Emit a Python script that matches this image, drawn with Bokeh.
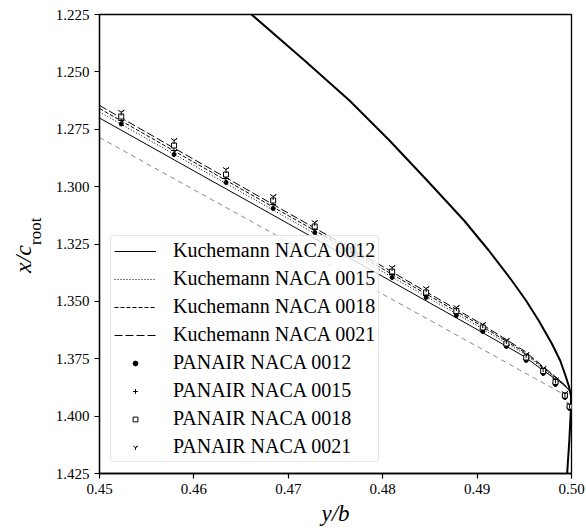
import numpy as np
from bokeh.plotting import figure
from bokeh.models import (Range1d, FixedTicker, PrintfTickFormatter, Legend, LegendItem,
                          LinearAxis)
from bokeh.embed import file_html
from bokeh.resources import INLINE

# Kuchemann curves (y/b -> x/c_root)
kx = [0.45, 0.46, 0.47, 0.48, 0.49, 0.495, 0.497, 0.499, 0.5]
k0012 = [1.27010, 1.29315, 1.31615, 1.33916, 1.36226, 1.37402, 1.38012, 1.38578, 1.38971]
k0015 = [1.26749, 1.29075, 1.31393, 1.33707, 1.36056, 1.37284, 1.37934, 1.38552, 1.38971]
k0018 = [1.26596, 1.28936, 1.31262, 1.33585, 1.35956, 1.37215, 1.37886, 1.38534, 1.38971]
k0021 = [1.26465, 1.28814, 1.31153, 1.33480, 1.35873, 1.37158, 1.37846, 1.38521, 1.38971]

# thin reference line
ref_x = [0.45, 0.4994]
ref_y = [1.2786, 1.3910]

# tip planform edge
tip_x = [0.46610, 0.47172, 0.47648, 0.48072, 0.48471, 0.48862, 0.49124, 0.49367,
         0.49518, 0.49652, 0.49791, 0.49880, 0.49936, 0.49973, 0.49996, 0.49993,
         0.49977, 0.49954]
tip_y = [1.22500, 1.24504, 1.26247, 1.27990, 1.29733, 1.31476, 1.32783, 1.34090,
         1.34962, 1.35833, 1.36836, 1.37576, 1.38230, 1.38709, 1.39145, 1.39755,
         1.41062, 1.42500]

# PANAIR results
px_ = [0.4523, 0.4579, 0.4634, 0.4684, 0.4728, 0.4769, 0.4810, 0.4846, 0.4878,
       0.4906, 0.4931, 0.4952, 0.4970, 0.4983, 0.4993, 0.4998]
p0012 = [1.27271, 1.28600, 1.29820, 1.30953, 1.31999, 1.33001, 1.33960, 1.34831,
         1.35615, 1.36312, 1.36966, 1.37576, 1.38142, 1.38622, 1.39188, 1.39668]
p0015 = [1.27119, 1.28426, 1.29646, 1.30779, 1.31868, 1.32871, 1.33829, 1.34744,
         1.35529, 1.36226, 1.36922, 1.37511, 1.38099, 1.38578, 1.39145, 1.39624]
p0018 = [1.26944, 1.28208, 1.29472, 1.30604, 1.31737, 1.32740, 1.33698, 1.34613,
         1.35419, 1.36138, 1.36835, 1.37446, 1.38034, 1.38513, 1.39101, 1.39581]
p0021 = [1.26757, 1.27990, 1.29254, 1.30430, 1.31563, 1.32565, 1.33524, 1.34439,
         1.35267, 1.36008, 1.36705, 1.37315, 1.37925, 1.38426, 1.39014, 1.39494]

x_ticks = [0.45, 0.46, 0.47, 0.48, 0.49, 0.50]
y_ticks = [1.225, 1.250, 1.275, 1.300, 1.325, 1.350, 1.375, 1.400, 1.425]

SERIF = "Liberation Serif"
NB = "\u00a0"

p = figure(width=586, height=532, output_backend="svg", toolbar_location=None,
           x_range=Range1d(0.45, 0.50), y_range=Range1d(1.425, 1.225))
p.min_border_left = 99
p.min_border_right = 15
p.min_border_top = 14
p.min_border_bottom = 59
p.xgrid.visible = False
p.ygrid.visible = False
p.outline_line_color = "black"
p.outline_line_width = 1.3
p.background_fill_color = "white"
p.border_fill_color = "white"

for ax in (p.xaxis[0], p.yaxis[0]):
    ax.axis_line_color = "black"
    ax.axis_line_width = 1.3
    ax.major_tick_out = 5
    ax.major_tick_in = 0
    ax.major_tick_line_width = 1.2
    ax.minor_tick_out = 0
    ax.minor_tick_in = 0
    ax.major_label_text_font = SERIF
    ax.major_label_text_font_size = "15px"
    ax.major_label_text_color = "black"
    ax.major_label_standoff = 5

p.xaxis.ticker = FixedTicker(ticks=x_ticks)
p.yaxis.ticker = FixedTicker(ticks=y_ticks)
p.xaxis.formatter = PrintfTickFormatter(format="%.2f")
p.yaxis.formatter = PrintfTickFormatter(format="%.3f")

p.xaxis.axis_label = "y/b"
p.xaxis.axis_label_text_font = SERIF
p.xaxis.axis_label_text_font_style = "italic"
p.xaxis.axis_label_text_font_size = "23px"
p.xaxis.axis_label_text_color = "black"
p.xaxis.axis_label_standoff = 4

# y axis title: subscript "root" on the main axis, "x/c" on an outer blank axis
p.yaxis.axis_label = NB * 6 + "root"
p.yaxis.axis_label_text_font = SERIF
p.yaxis.axis_label_text_font_style = "normal"
p.yaxis.axis_label_text_font_size = "17px"
p.yaxis.axis_label_text_color = "black"
p.yaxis.axis_label_standoff = 8

ax2 = LinearAxis(ticker=FixedTicker(ticks=[]), axis_line_color=None,
                 major_tick_line_color=None, minor_tick_line_color=None,
                 major_label_text_font_size="0px",
                 axis_label="x/c" + NB * 5, axis_label_text_font=SERIF,
                 axis_label_text_font_style="italic", axis_label_text_font_size="24px",
                 axis_label_text_color="black", axis_label_standoff=-13)
p.add_layout(ax2, "left")

p.line(ref_x, ref_y, line_color="#555555", line_width=0.7, line_dash="5 4")
r12 = p.line(kx, k0012, line_color="black", line_width=1.0)
r15 = p.line(kx, k0015, line_color="black", line_width=1.0, line_dash="1 2")
r18 = p.line(kx, k0018, line_color="black", line_width=1.0, line_dash="4 2")
r21 = p.line(kx, k0021, line_color="black", line_width=1.0, line_dash="8 3")
p.line(tip_x, tip_y, line_color="black", line_width=2.0)

s12 = p.scatter(px_, p0012, marker="circle", size=4, color="black")
s15 = p.scatter(px_, p0015, marker="cross", size=6, line_color="black", line_width=1)
s18 = p.scatter(px_, p0018, marker="square", size=5, line_color="black",
                fill_color="white", line_width=1)
s21 = p.scatter(px_, p0021, marker="y", size=7, line_color="black", line_width=1)

legend = Legend(items=[
    LegendItem(label="Kuchemann NACA 0012", renderers=[r12]),
    LegendItem(label="Kuchemann NACA 0015", renderers=[r15]),
    LegendItem(label="Kuchemann NACA 0018", renderers=[r18]),
    LegendItem(label="Kuchemann NACA 0021", renderers=[r21]),
    LegendItem(label="PANAIR NACA 0012", renderers=[s12]),
    LegendItem(label="PANAIR NACA 0015", renderers=[s15]),
    LegendItem(label="PANAIR NACA 0018", renderers=[s18]),
    LegendItem(label="PANAIR NACA 0021", renderers=[s21]),
], location="bottom_left")
legend.margin = 11
legend.padding = 3
legend.spacing = 5
legend.label_text_font = SERIF
legend.label_text_font_size = "20px"
legend.label_text_color = "black"
legend.label_height = 20
legend.glyph_height = 12
legend.glyph_width = 42
legend.label_standoff = 17
legend.border_line_color = "#cccccc"
legend.border_line_width = 1.2
legend.background_fill_alpha = 0.8
legend.border_radius = 4
p.add_layout(legend, "center")

open("out.html", "w").write(file_html(p, INLINE))
